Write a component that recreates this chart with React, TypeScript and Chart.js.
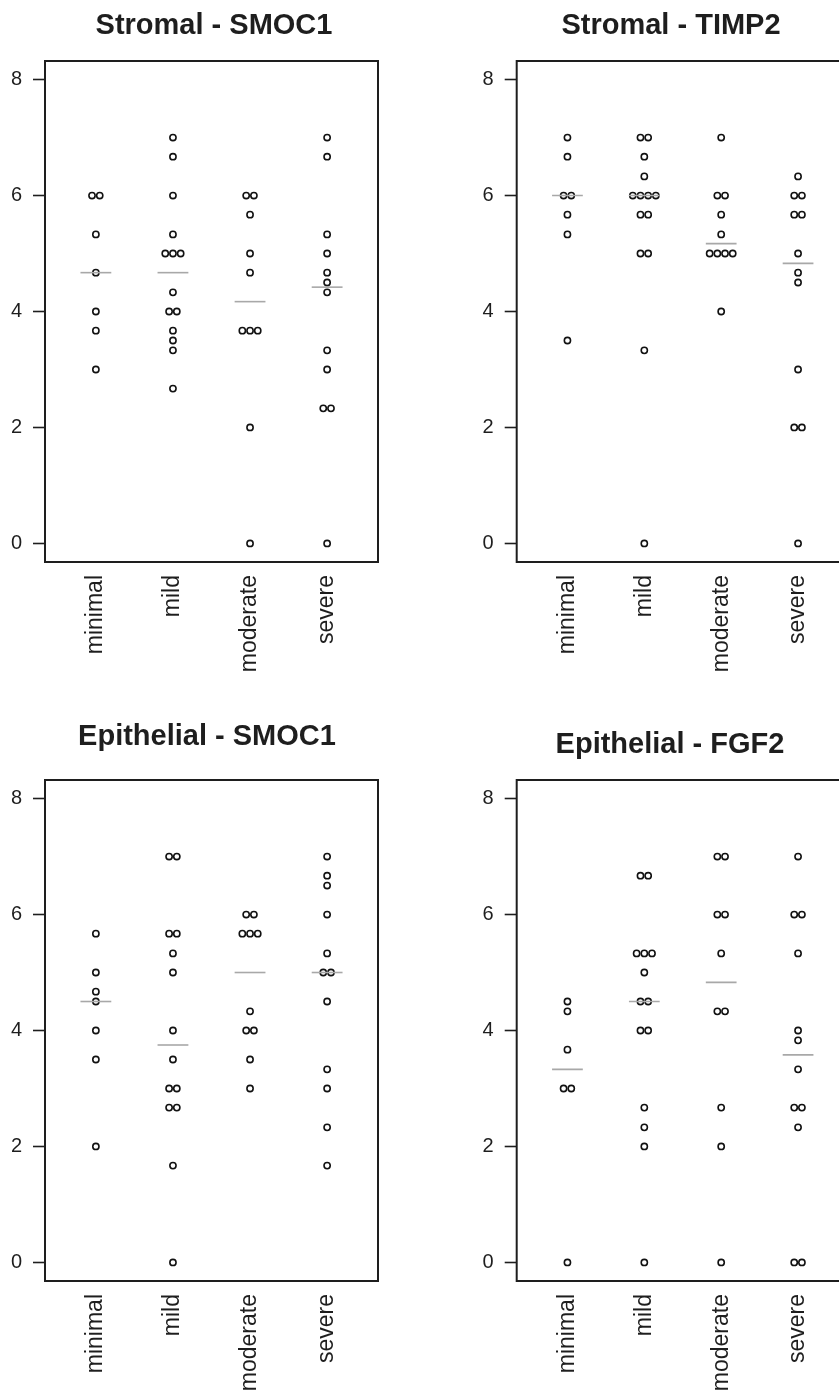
import React, { useEffect, useRef } from "react";
import { Chart, registerables } from "chart.js";

Chart.register(...registerables);

const categories = ["minimal", "mild", "moderate", "severe"];
const yTickValues = [0, 2, 4, 6, 8];

const stromalSmoc1: number[][] = [
  [6, 6, 5.33, 4.67, 4, 3.67, 3],
  [7, 6.67, 6, 5.33, 5, 5, 5, 4.33, 4, 4, 3.67, 3.5, 3.33, 2.67],
  [6, 6, 5.67, 5, 4.67, 3.67, 3.67, 3.67, 2, 0],
  [7, 6.67, 5.33, 5, 4.67, 4.5, 4.33, 3.33, 3, 2.33, 2.33, 0],
];
const stromalSmoc1Medians = [4.67, 4.67, 4.17, 4.42];

const stromalTimp2: number[][] = [
  [7, 6.67, 6, 6, 5.67, 5.33, 3.5],
  [7, 7, 6.67, 6.33, 6, 6, 6, 6, 5.67, 5.67, 5, 5, 3.33, 0],
  [7, 6, 6, 5.67, 5.33, 5, 5, 5, 5, 4],
  [6.33, 6, 6, 5.67, 5.67, 5, 4.67, 4.5, 3, 2, 2, 0],
];
const stromalTimp2Medians = [6, 6, 5.17, 4.83];

const epithelialSmoc1: number[][] = [
  [5.67, 5, 4.67, 4.5, 4, 3.5, 2],
  [7, 7, 5.67, 5.67, 5.33, 5, 4, 3.5, 3, 3, 2.67, 2.67, 1.67, 0],
  [6, 6, 5.67, 5.67, 5.67, 4.33, 4, 4, 3.5, 3],
  [7, 6.67, 6.5, 6, 5.33, 5, 5, 4.5, 3.33, 3, 2.33, 1.67],
];
const epithelialSmoc1Medians = [4.5, 3.75, 5, 5];

const epithelialFgf2: number[][] = [
  [4.5, 4.33, 3.67, 3, 3, 0],
  [6.67, 6.67, 5.33, 5.33, 5.33, 5, 4.5, 4.5, 4, 4, 2.67, 2.33, 2, 0],
  [7, 7, 6, 6, 5.33, 4.33, 4.33, 2.67, 2, 0],
  [7, 6, 6, 5.33, 4, 3.83, 3.33, 2.67, 2.67, 2.33, 0, 0],
];
const epithelialFgf2Medians = [3.33, 4.5, 4.83, 3.58];

const FONT = '"Liberation Sans", Arial, Helvetica, sans-serif';
const TEXT = "#1e1e1e";

type PanelCfg = {
  title: string;
  values: number[][];
  medians: number[];
  left: number;
  top: number;
  width: number;
  height: number;
  yWidth: number;
  padRight: number;
  titleTop: number;
  titleBottom: number;
  xHeight: number;
};

const panels: PanelCfg[] = [
  { title: "Stromal - SMOC1", values: stromalSmoc1, medians: stromalSmoc1Medians, left: 0, top: 0, width: 428, height: 690, yWidth: 45, padRight: 50, titleTop: 8.5, titleBottom: 17.7, xHeight: 128 },
  { title: "Stromal - TIMP2", values: stromalTimp2, medians: stromalTimp2Medians, left: 420, top: 0, width: 502, height: 690, yWidth: 96.7, padRight: 73.2, titleTop: 8.5, titleBottom: 17.7, xHeight: 128 },
  { title: "Epithelial - SMOC1", values: epithelialSmoc1, medians: epithelialSmoc1Medians, left: 0, top: 690, width: 414, height: 705, yWidth: 45, padRight: 36, titleTop: 30, titleBottom: 25.2, xHeight: 114 },
  { title: "Epithelial - FGF2", values: epithelialFgf2, medians: epithelialFgf2Medians, left: 420, top: 690, width: 500, height: 705, yWidth: 96.7, padRight: 71.2, titleTop: 37.4, titleBottom: 17.8, xHeight: 114 },
];

const STACK_STEP = 0.1;
const MEDIAN_HALF = 0.2;

function stackedPoints(values: number[][]) {
  const pts: { x: number; y: number }[] = [];
  values.forEach((arr, ci) => {
    const counts = new Map<number, number>();
    arr.forEach((v) => counts.set(v, (counts.get(v) || 0) + 1));
    const seen = new Map<number, number>();
    arr.forEach((v) => {
      const n = counts.get(v) || 1;
      const k = seen.get(v) || 0;
      seen.set(v, k + 1);
      pts.push({ x: ci + 1 + (k - (n - 1) / 2) * STACK_STEP, y: v });
    });
  });
  return pts;
}

const boxPlugin = {
  id: "boxPlugin",
  beforeDatasetsDraw(chart: any) {
    const { ctx, chartArea } = chart;
    ctx.save();
    ctx.strokeStyle = "#1e1e1e";
    ctx.lineWidth = 2;
    ctx.strokeRect(chartArea.left, chartArea.top, chartArea.right - chartArea.left, chartArea.bottom - chartArea.top);
    ctx.restore();
  },
};

function Panel({ cfg }: { cfg: PanelCfg }) {
  const ref = useRef<HTMLCanvasElement | null>(null);
  useEffect(() => {
    if (!ref.current) return;
    const medianSets = cfg.medians.map((m, i) => ({
      type: "line" as const,
      data: [
        { x: i + 1 - MEDIAN_HALF, y: m },
        { x: i + 1 + MEDIAN_HALF, y: m },
      ],
      borderColor: "#a8a8a8",
      borderWidth: 1.6,
      pointRadius: 0,
      fill: false,
    }));
    const chart = new Chart(ref.current, {
      type: "scatter",
      data: {
        datasets: [
          ...medianSets,
          {
            type: "scatter" as const,
            data: stackedPoints(cfg.values),
            pointRadius: 3.1,
            borderWidth: 1.6,
            borderColor: "#111",
            backgroundColor: "rgba(255,255,255,0)",
          },
        ] as any,
      },
      options: {
        responsive: false,
        animation: false,
        events: [],
        layout: { padding: 0 },
        plugins: {
          legend: { display: false },
          tooltip: { enabled: false },
          title: {
            display: true,
            text: cfg.title,
            color: TEXT,
            font: { family: FONT, size: 29, weight: "bold" },
            padding: { top: cfg.titleTop, bottom: cfg.titleBottom },
          },
        },
        scales: {
          x: {
            type: "linear",
            min: 0.34,
            max: 4.66,
            afterBuildTicks: (scale: any) => {
              scale.ticks = categories.map((_, i) => ({ value: i + 1 }));
            },
            afterFit: (scale: any) => {
              scale.height = cfg.xHeight;
            },
            grid: { display: false, drawTicks: false },
            border: { display: false },
            ticks: {
              autoSkip: false,
              minRotation: 90,
              maxRotation: 90,
              padding: 13,
              color: TEXT,
              font: { family: FONT, size: 23 },
              callback: (v: any) => categories[Math.round(Number(v)) - 1] ?? "",
            },
          },
          y: {
            type: "linear",
            min: -0.32,
            max: 8.32,
            afterBuildTicks: (scale: any) => {
              scale.ticks = yTickValues.map((v) => ({ value: v }));
            },
            afterFit: (scale: any) => {
              scale.width = cfg.yWidth;
            },
            grid: {
              display: true,
              drawOnChartArea: false,
              drawTicks: true,
              tickLength: 12,
              tickColor: "#1e1e1e",
              tickWidth: 1.6,
            },
            border: { display: false },
            ticks: {
              padding: 11,
              color: TEXT,
              font: { family: FONT, size: 20 },
              callback: (v: any) => String(v),
            },
          },
          yRight: {
            type: "linear",
            position: "right",
            display: true,
            afterFit: (scale: any) => {
              scale.width = cfg.padRight;
            },
            grid: { display: false, drawTicks: false },
            border: { display: false },
            ticks: { display: false },
          },
        },
      } as any,
      plugins: [boxPlugin],
    });
    return () => chart.destroy();
  }, [cfg]);
  return (
    <canvas
      ref={ref}
      width={cfg.width}
      height={cfg.height}
      style={{ position: "absolute", left: cfg.left, top: cfg.top, width: cfg.width, height: cfg.height }}
    />
  );
}

export default function App() {
  return (
    <div
      style={{
        position: "absolute",
        left: 0,
        top: 0,
        width: 839,
        height: 1395,
        overflow: "hidden",
        background: "#fff",
      }}
    >
      {panels.map((p) => (
        <Panel key={p.title} cfg={p} />
      ))}
    </div>
  );
}
